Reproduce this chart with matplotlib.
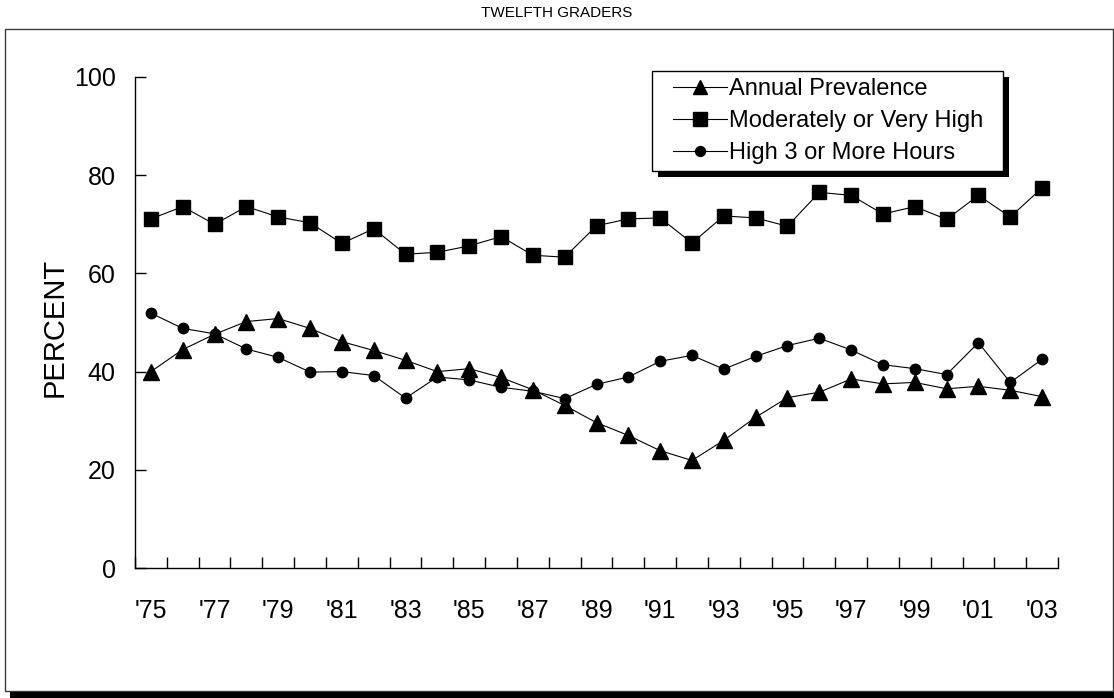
import numpy as np
import matplotlib
matplotlib.use('Agg')
import matplotlib.pyplot as plt
from matplotlib.patches import Rectangle

plt.rcParams['font.family'] = ['Liberation Sans', 'DejaVu Sans']

# twelfth graders, 1975-2003
years = ["'75", "'76", "'77", "'78", "'79", "'80", "'81", "'82", "'83", "'84",
         "'85", "'86", "'87", "'88", "'89", "'90", "'91", "'92", "'93", "'94",
         "'95", "'96", "'97", "'98", "'99", "'00", "'01", "'02", "'03"]
annual_prev = [40.0, 44.5, 47.6, 50.2, 50.8, 48.8, 46.1, 44.3, 42.3, 40.0,
               40.6, 38.8, 36.3, 33.1, 29.6, 27.0, 23.9, 21.9, 26.0, 30.7,
               34.7, 35.8, 38.5, 37.5, 37.8, 36.5, 37.0, 36.2, 34.9]
mod_or_very_high = [71.1, 73.6, 70.0, 73.6, 71.5, 70.3, 66.1, 69.1, 63.9, 64.3,
                    65.6, 67.5, 63.7, 63.3, 69.7, 71.1, 71.3, 66.2, 71.7, 71.3,
                    69.6, 76.5, 75.9, 72.1, 73.6, 71.0, 75.9, 71.5, 77.4]
high_3_hours = [51.9, 48.8, 47.7, 44.6, 42.9, 39.9, 40.0, 39.2, 34.6, 38.9,
                38.3, 36.8, 36.0, 34.5, 37.4, 38.9, 42.1, 43.3, 40.5, 43.1,
                45.3, 46.8, 44.4, 41.4, 40.6, 39.4, 45.9, 37.8, 42.5]
series_labels = ['Annual Prevalence', 'Moderately or Very High', 'High 3 or More Hours']

W, H = 1114, 698
fig = plt.figure(figsize=(W / 100, H / 100), dpi=100)


def fig_rect(x0, y0, x1, y1):
    # pixel box (top-left origin) -> figure fraction (left, bottom, width, height)
    return x0 / W, 1 - y1 / H, (x1 - x0) / W, (y1 - y0) / H


ax = fig.add_axes(fig_rect(135, 77, 1058, 568))
x = np.arange(len(years))
style = dict(color='black', lw=0.8, mec='black', mfc='black', clip_on=False)
l1, = ax.plot(x, annual_prev, marker='^', ms=11, **style)
l2, = ax.plot(x, mod_or_very_high, marker='s', ms=10.5, **style)
l3, = ax.plot(x, high_3_hours, marker='o', ms=7.5, **style)

ax.set_xlim(-0.5, len(years) - 0.5)
ax.set_ylim(0, 100)
ax.set_yticks(range(0, 101, 20))
ax.tick_params(axis='y', direction='in', length=8, width=1, labelsize=18, pad=14)
ax.set_xticks(x[::2])
ax.set_xticklabels(years[::2])
ax.set_xticks(np.arange(-0.5, len(years)), minor=True)
ax.tick_params(axis='x', which='major', length=0, labelsize=18, pad=22)
ax.tick_params(axis='x', which='minor', direction='in', length=8, width=1)
for s in ['top', 'right']:
    ax.spines[s].set_visible(False)
for s in ['left', 'bottom']:
    ax.spines[s].set_linewidth(1)

ax.set_ylabel('PERCENT', fontsize=21)
ax.yaxis.set_label_coords(-66 / 923, 0.49)

fig.text(0.5, 1 - 13 / H, 'TWELFTH GRADERS', ha='center', va='center', fontsize=11)

# legend box with a drop shadow
fig.add_artist(Rectangle(fig_rect(658, 77, 1009, 177)[:2], 351 / W, 100 / H,
                         transform=fig.transFigure, facecolor='black', edgecolor='none', zorder=3))
fig.add_artist(Rectangle(fig_rect(652, 71, 1003, 171)[:2], 351 / W, 100 / H,
                         transform=fig.transFigure, facecolor='white', edgecolor='black',
                         lw=1, zorder=3.5))
fig.legend([l1, l2, l3], series_labels, loc='center',
           bbox_to_anchor=(828 / W, 1 - 121 / H), bbox_transform=fig.transFigure,
           frameon=False, fontsize=17, handlelength=2.3, handletextpad=0.1,
           labelspacing=0.42, borderpad=0, markerscale=0.95)

# outer frame and its bottom shadow
fx, fy, fw, fh = fig_rect(5, 29, 1113, 691)
fig.add_artist(Rectangle((fx, fy), fw, fh, transform=fig.transFigure,
                         facecolor='none', edgecolor='#3a3a3a', lw=1, zorder=1))
sx, sy, sw, sh = fig_rect(10, 692, 1114, 698)
fig.add_artist(Rectangle((sx, sy), sw, sh, transform=fig.transFigure,
                         facecolor='black', edgecolor='none', zorder=1))

fig.savefig('out.png', dpi=100)
